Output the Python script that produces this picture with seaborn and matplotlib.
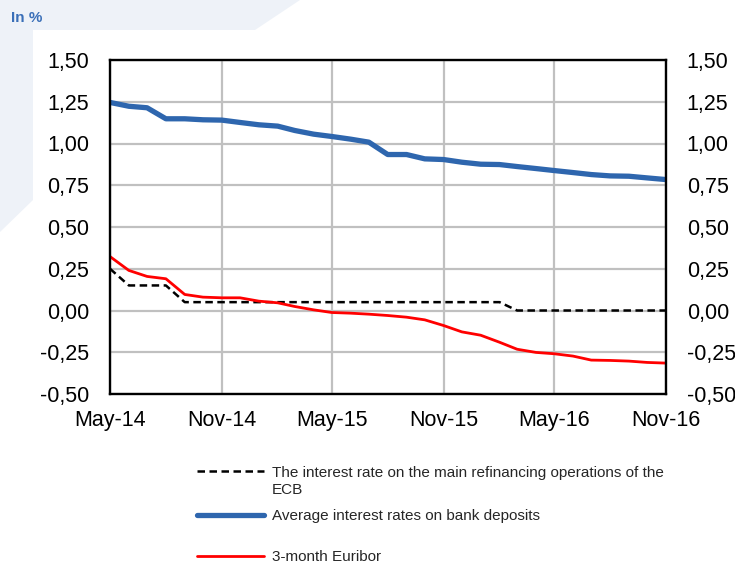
import matplotlib
matplotlib.use("Agg")
import matplotlib.pyplot as plt
from matplotlib.patches import Polygon
import seaborn as sns
import pandas as pd

months = ["2014-05", "2014-06", "2014-07", "2014-08", "2014-09", "2014-10", "2014-11",
          "2014-12", "2015-01", "2015-02", "2015-03", "2015-04", "2015-05", "2015-06",
          "2015-07", "2015-08", "2015-09", "2015-10", "2015-11", "2015-12", "2016-01",
          "2016-02", "2016-03", "2016-04", "2016-05", "2016-06", "2016-07", "2016-08",
          "2016-09", "2016-10", "2016-11"]
ecb_mro = [0.25, 0.15, 0.15, 0.15, 0.05, 0.05, 0.05, 0.05, 0.05, 0.05, 0.05, 0.05,
           0.05, 0.05, 0.05, 0.05, 0.05, 0.05, 0.05, 0.05, 0.05, 0.05, 0.00, 0.00,
           0.00, 0.00, 0.00, 0.00, 0.00, 0.00, 0.00]
deposits = [1.246, 1.223, 1.214, 1.148, 1.148, 1.142, 1.140, 1.126, 1.112, 1.104,
            1.078, 1.056, 1.042, 1.026, 1.008, 0.934, 0.934, 0.908, 0.904, 0.888,
            0.876, 0.874, 0.862, 0.850, 0.838, 0.826, 0.814, 0.806, 0.804, 0.794, 0.784]
euribor = [0.323, 0.240, 0.204, 0.190, 0.096, 0.080, 0.076, 0.076, 0.056, 0.046,
           0.024, 0.004, -0.012, -0.016, -0.022, -0.030, -0.040, -0.056, -0.090,
           -0.128, -0.148, -0.190, -0.232, -0.251, -0.259, -0.273, -0.297, -0.299,
           -0.303, -0.311, -0.315]
y_ticks = [-0.50, -0.25, 0.00, 0.25, 0.50, 0.75, 1.00, 1.25, 1.50]
x_ticks = ["2014-05", "2014-11", "2015-05", "2015-11", "2016-05", "2016-11"]
x_labels = ["May-14", "Nov-14", "May-15", "Nov-15", "May-16", "Nov-16"]
labels = ["The interest rate on the main refinancing operations of the",
          "Average interest rates on bank deposits",
          "3-month Euribor"]
label_cont = "ECB"

sns.set_theme(style="white")
plt.rcParams["font.family"] = ["Liberation Sans", "DejaVu Sans"]

df = pd.DataFrame({"date": pd.to_datetime(months), "ecb": ecb_mro,
                   "dep": deposits, "eur": euribor})

fig = plt.figure(figsize=(7.35, 5.64), dpi=100, facecolor="white")
W, H = 735, 564
bg = Polygon([(0, 1), (300 / W, 1), (255 / W, 1 - 30 / H), (33 / W, 1 - 30 / H),
              (33 / W, 1 - 200 / H), (0, 1 - 232 / H)], closed=True,
             transform=fig.transFigure, facecolor="#eef2f8", edgecolor="none", zorder=0)
fig.patches.append(bg)

ax = fig.add_axes([110 / W, 1 - 394 / H, (666 - 110) / W, (394 - 60) / H])
ax.set_facecolor("white")

sns.lineplot(data=df, x="date", y="ecb", ax=ax, color="black", lw=1.8,
             linestyle=(0, (3, 1.8)), label=labels[0], zorder=3)
sns.lineplot(data=df, x="date", y="eur", ax=ax, color="#ff0000", lw=2.0,
             label=labels[2], zorder=4)
sns.lineplot(data=df, x="date", y="dep", ax=ax, color="#2e66ae", lw=3.8,
             solid_capstyle="round", label=labels[1], zorder=5)

ax.set_xlim(pd.Timestamp(months[0]), pd.Timestamp(months[-1]))
ax.set_ylim(-0.5, 1.5)
ax.set_yticks(y_ticks)
fmt = [f"{v:.2f}".replace(".", ",") for v in y_ticks]
ax.set_yticklabels(fmt)
ax.set_xticks(pd.to_datetime(x_ticks))
ax.set_xticklabels(x_labels, va="baseline")
ax.set_xlabel("")
ax.set_ylabel("")
ax.grid(True, color="#c0c0c0", lw=1.6)
ax.set_axisbelow(True)
for s in ax.spines.values():
    s.set_color("black")
    s.set_linewidth(1.7)
    s.set_visible(True)
    s.set_zorder(6)
ax.tick_params(axis="both", length=0, labelsize=15.5, colors="black")
ax.tick_params(axis="y", pad=15)
ax.tick_params(axis="x", pad=23)

ax2 = ax.twinx()
ax2.set_ylim(-0.5, 1.5)
ax2.set_yticks(y_ticks)
ax2.set_yticklabels(fmt)
ax2.tick_params(axis="y", length=0, labelsize=15.5, pad=15, colors="black")
for s in ax2.spines.values():
    s.set_visible(False)
ax2.grid(False)

leg = ax.get_legend()
if leg is not None:
    leg.remove()
handles = {l.get_label(): l for l in ax.get_lines()}
rows = [(labels[0], 1 - 472.5 / H), (labels[1], 1 - 516 / H), (labels[2], 1 - 557 / H)]
for lab, yy in rows:
    fig.legend([handles[lab]], [lab], loc="center left", bbox_to_anchor=(197 / W, yy),
               frameon=False, fontsize=11, handlelength=4.4, handletextpad=0.5,
               borderpad=0, borderaxespad=0)
fig.text(272 / W, 1 - 490 / H, label_cont, fontsize=11, va="center", ha="left")

fig.text(11 / W, 1 - 17.5 / H, "In %", fontsize=11, fontweight="bold", color="#3a6fb8",
         va="center", ha="left")

fig.savefig("out.png", dpi=100, facecolor="white")
